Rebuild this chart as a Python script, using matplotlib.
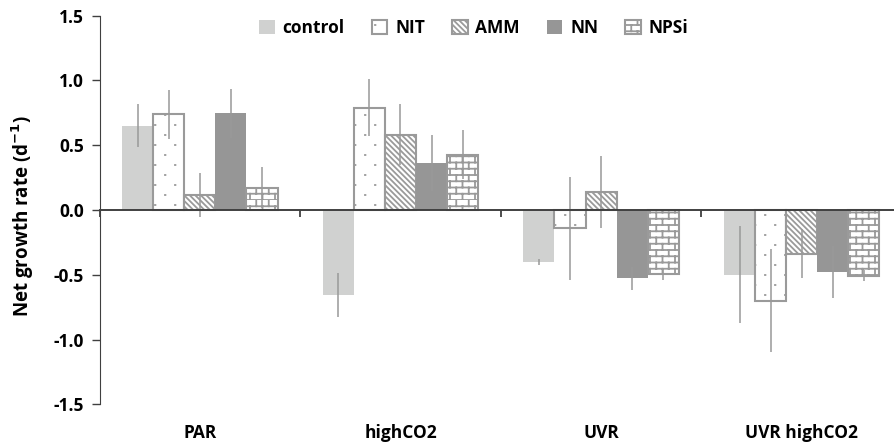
import warnings
import numpy as np
import matplotlib
matplotlib.use("Agg")
import matplotlib.pyplot as plt
import matplotlib.hatch as mhatch
from matplotlib.path import Path

warnings.filterwarnings("ignore")

# data
categories = ["PAR", "highCO2", "UVR", "UVR highCO2"]
treatments = ["control", "NIT", "AMM", "NN", "NPSi"]

control = [0.65, -0.66, -0.40, -0.50]
nit = [0.74, 0.79, -0.14, -0.70]
amm = [0.115, 0.58, 0.137, -0.337]
nn = [0.745, 0.365, -0.527, -0.476]
npsi = [0.172, 0.427, -0.494, -0.507]

control_err = [0.165, 0.17, 0.025, 0.375]
nit_err = [0.19, 0.22, 0.397, 0.40]
amm_err = [0.17, 0.235, 0.277, 0.188]
nn_err = [0.19, 0.215, 0.088, 0.20]
npsi_err = [0.16, 0.19, 0.044, 0.04]


# brick pattern for NPSi (not a built-in hatch), char 'b'
class Bricks(mhatch.HatchPatternBase):
    def __init__(self, hatch, density):
        self.num_rows = hatch.count('b') * 16
        self.num_cols = 8
        self.num_vertices = self.num_rows * (2 + 2 * self.num_cols)

    def set_vertices_and_codes(self, vertices, codes):
        k = 0
        for i in range(self.num_rows):
            y0 = i / self.num_rows
            y1 = (i + 1) / self.num_rows
            vertices[k] = (0, y0)
            vertices[k + 1] = (1, y0)
            codes[k] = Path.MOVETO
            codes[k + 1] = Path.LINETO
            k += 2
            off = 0.5 * (i % 2)
            for j in range(self.num_cols):
                xx = (j + off) / self.num_cols
                vertices[k] = (xx, y0)
                vertices[k + 1] = (xx, y1)
                codes[k] = Path.MOVETO
                codes[k + 1] = Path.LINETO
                k += 2


# sparse staggered tiny dots for NIT, char 'd'
class Dots(mhatch.HatchPatternBase):
    def __init__(self, hatch, density):
        self.num_rows = hatch.count('d') * 10
        self.num_cols = 5
        self.num_vertices = self.num_rows * self.num_cols * 2

    def set_vertices_and_codes(self, vertices, codes):
        k = 0
        for i in range(self.num_rows):
            y = (i + 0.5) / self.num_rows
            off = 0.5 * (i % 2)
            for j in range(self.num_cols):
                xx = (j + 0.25 + off) / self.num_cols
                vertices[k] = (xx, y)
                vertices[k + 1] = (xx + 0.004, y)
                codes[k] = Path.MOVETO
                codes[k + 1] = Path.LINETO
                k += 2


mhatch._hatch_types.append(Bricks)
mhatch._hatch_types.append(Dots)

plt.rcParams['font.family'] = ['Open Sans', 'DejaVu Sans']
plt.rcParams['font.weight'] = 'bold'
plt.rcParams['hatch.linewidth'] = 1.3

fig = plt.figure(figsize=(8.94, 4.45), dpi=100)
ax = fig.add_axes([0.1113, 0.0915, 0.8887, 0.8733])

edge = '#9a9a9a'
styles = [
    dict(color='#d0d1d0', edgecolor='none'),
    dict(color='white', edgecolor=edge, hatch='d', linewidth=1.5),
    dict(color='white', edgecolor=edge, hatch='\\' * 6, linewidth=1.5),
    dict(color='#969696', edgecolor='none'),
    dict(color='white', edgecolor=edge, hatch='b', linewidth=1.5),
]
series = [control, nit, amm, nn, npsi]
errors = [control_err, nit_err, amm_err, nn_err, npsi_err]

x = np.arange(len(categories))
w = 0.155
for k, (vals, errs, st) in enumerate(zip(series, errors, styles)):
    xs = x + (k - 2) * w
    ax.bar(xs, vals, w, label=treatments[k], zorder=2, **st)
    ax.errorbar(xs, vals, yerr=errs, fmt='none', ecolor='#999999',
                elinewidth=1.1, capsize=0, zorder=3)

ax.set_xlim(-0.5, 3.46)
ax.set_ylim(-1.5, 1.5)
ticks = np.arange(-1.5, 1.51, 0.5)
ax.set_yticks(ticks)
ax.set_yticklabels(['%.1f' % v for v in ticks], fontsize=12.5)
ax.tick_params(axis='y', length=6, width=1, color='#404040', pad=5)

ax.spines['top'].set_visible(False)
ax.spines['right'].set_visible(False)
ax.spines['left'].set_color('#404040')
ax.spines['bottom'].set_position(('data', 0))
ax.spines['bottom'].set_color('#404040')
ax.spines['bottom'].set_linewidth(1.4)
ax.spines['bottom'].set_zorder(4)
ax.set_xticks([-0.5, 0.5, 1.5, 2.5])
ax.set_xticklabels([])
ax.tick_params(axis='x', length=5, width=1.2, color='#303030')

for i, c in enumerate(categories):
    ax.text(i, -0.075, c, transform=ax.get_xaxis_transform(), ha='center',
            va='center', fontsize=12.5, fontweight='bold')

fig.text(0.026, 0.515, 'Net growth rate (d$^{\\mathbf{-1}}$)', rotation=90,
         ha='center', va='center', fontsize=13.5, fontweight='bold')

fig.legend(loc='center', bbox_to_anchor=(0.53, 0.937), ncol=5, frameon=False,
           fontsize=12.5, handlelength=0.9, handleheight=0.9, handletextpad=0.45,
           columnspacing=1.55)

fig.savefig('out.png', dpi=100)
